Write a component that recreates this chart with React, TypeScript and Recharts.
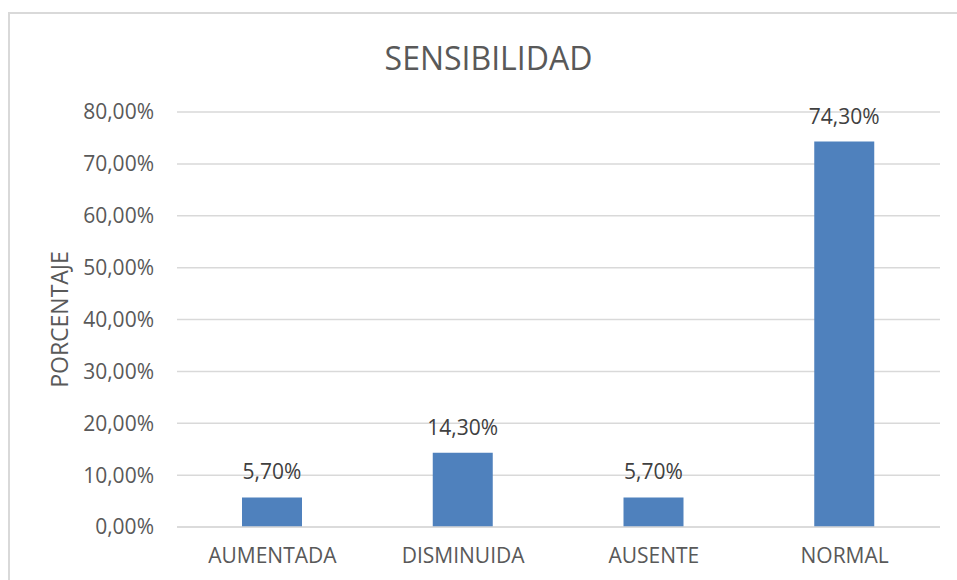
import { BarChart, Bar, XAxis, YAxis, CartesianGrid, LabelList } from 'recharts';

// Sensibilidad categories and their percentages
const CATEGORIES = ['AUMENTADA', 'DISMINUIDA', 'AUSENTE', 'NORMAL'];
const PERCENTAGES = [5.7, 14.3, 5.7, 74.3];
const Y_TICKS = [0, 10, 20, 30, 40, 50, 60, 70, 80];

const FONT = '"Open Sans", sans-serif';
const TEXT = '#595959';
const GRID = '#d9d9d9';

const fmt = (v: number) => `${v.toFixed(2).replace('.', ',')}%`;

const data = CATEGORIES.map((name, i) => ({ name, value: PERCENTAGES[i] }));

export default function App() {
  return (
    <div style={{ position: 'fixed', inset: 0, overflow: 'hidden', background: '#fff' }}>
      {/* chart frame, only top and left edges show */}
      <div
        style={{
          position: 'absolute',
          left: 8,
          top: 12,
          width: 1000,
          height: 620,
          border: `2px solid ${GRID}`,
        }}
      />
      <div
        style={{
          position: 'absolute',
          left: 0,
          width: 977,
          top: 36,
          textAlign: 'center',
          fontFamily: FONT,
          fontSize: 32,
          color: TEXT,
          lineHeight: '44px',
        }}
      >
        SENSIBILIDAD
      </div>
      <div style={{ position: 'absolute', left: 0, top: 0 }}>
        <BarChart
          width={957}
          height={580}
          data={data}
          margin={{ top: 112, right: 17, bottom: 23, left: 0 }}
        >
          <CartesianGrid vertical={false} stroke={GRID} strokeWidth={1.5} />
          <XAxis
            dataKey="name"
            height={30}
            axisLine={{ stroke: GRID, strokeWidth: 1.5 }}
            tickLine={false}
            tickSize={0}
            tickMargin={21}
            tick={{ fontFamily: FONT, fontSize: 21, fill: TEXT }}
          />
          <YAxis
            width={177}
            domain={[0, 80]}
            ticks={Y_TICKS}
            axisLine={false}
            tickLine={false}
            tickSize={0}
            tickMargin={23}
            tickFormatter={fmt}
            tick={{ fontFamily: FONT, fontSize: 21, fill: TEXT }}
            label={{
              value: 'PORCENTAJE',
              angle: -90,
              position: 'insideLeft',
              offset: 60,
              style: { fontFamily: FONT, fontSize: 23, fill: TEXT, textAnchor: 'middle' },
            }}
          />
          <Bar dataKey="value" fill="#4f81bd" barSize={60} isAnimationActive={false}>
            <LabelList
              dataKey="value"
              position="top"
              offset={18}
              formatter={(v: any) => fmt(Number(v))}
              style={{ fontFamily: FONT, fontSize: 21, fill: '#404040' }}
            />
          </Bar>
        </BarChart>
      </div>
    </div>
  );
}
